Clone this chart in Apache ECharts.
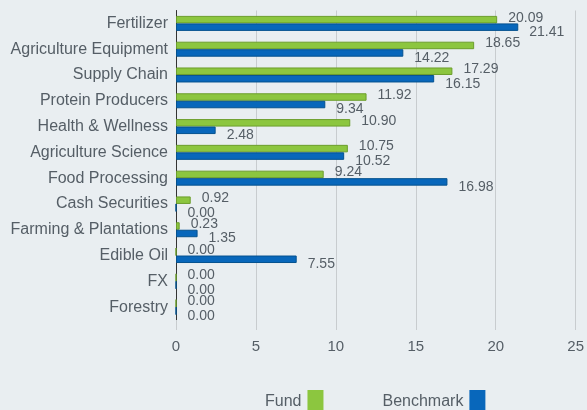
<!DOCTYPE html>
<html>
<head>
<meta charset="utf-8">
<script src="https://cdn.jsdelivr.net/npm/echarts@6/dist/echarts.min.js"></script>
<style>
  html, body { margin: 0; padding: 0; background: #e9eef1; }
  #main { width: 587px; height: 410px; }
</style>
</head>
<body>
<div id="main"></div>
<script>
const sectors = ['Fertilizer', 'Agriculture Equipment', 'Supply Chain', 'Protein Producers',
  'Health & Wellness', 'Agriculture Science', 'Food Processing', 'Cash Securities',
  'Farming & Plantations', 'Edible Oil', 'FX', 'Forestry'];
const fund = [20.09, 18.65, 17.29, 11.92, 10.90, 10.75, 9.24, 0.92, 0.23, 0.00, 0.00, 0.00];
const benchmark = [21.41, 14.22, 16.15, 9.34, 2.48, 10.52, 16.98, 0.00, 1.35, 7.55, 0.00, 0.00];
const xTicks = [0, 5, 10, 15, 20, 25];

const textColor = '#555e66';
const font = 'Liberation Sans, Arial, sans-serif';

const chart = echarts.init(document.getElementById('main'));

chart.setOption({
  backgroundColor: '#e9eef1',
  animation: false,
  textStyle: { fontFamily: font },
  grid: { left: 176, right: 8, top: 10.5, bottom: 90, containLabel: false },
  legend: {
    left: 265,
    top: 390,
    padding: 0,
    align: 'right',
    itemWidth: 16,
    itemHeight: 24,
    itemGap: 59,
    icon: 'rect',
    itemStyle: { borderWidth: 0 },
    textStyle: { color: textColor, fontSize: 16, fontFamily: font, padding: [4, 1, 0, 0] },
    data: ['Fund', 'Benchmark']
  },
  xAxis: {
    type: 'value',
    min: xTicks[0],
    max: xTicks[xTicks.length - 1],
    interval: 5,
    axisLine: { show: false },
    axisTick: { show: true, length: 10, lineStyle: { color: '#c8cccf' } },
    axisLabel: { color: textColor, fontSize: 15, margin: 19 },
    splitLine: { show: true, lineStyle: { color: '#c8cccf', width: 1 } }
  },
  yAxis: {
    type: 'category',
    inverse: true,
    data: sectors,
    axisLine: { show: true, lineStyle: { color: '#333', width: 1 } },
    axisTick: { show: false },
    axisLabel: { color: textColor, fontSize: 16, margin: 8, padding: [2, 0, 0, 0] }
  },
  series: [
    {
      name: 'Fund',
      type: 'bar',
      data: fund,
      barWidth: 7.5,
      barGap: '0%',
      itemStyle: { color: '#8cc63f', borderColor: '#6c9e2c', borderWidth: 1 },
      label: {
        show: true,
        position: 'right',
        distance: 11,
        offset: [0, -2],
        color: textColor,
        fontSize: 14,
        formatter: p => p.value.toFixed(2)
      }
    },
    {
      name: 'Benchmark',
      type: 'bar',
      data: benchmark,
      barWidth: 7.5,
      barGap: '0%',
      itemStyle: { color: '#0867bb', borderColor: '#05528f', borderWidth: 1 },
      label: {
        show: true,
        position: 'right',
        distance: 11,
        offset: [0, 5],
        color: textColor,
        fontSize: 14,
        formatter: p => p.value.toFixed(2)
      }
    }
  ]
});
</script>
</body>
</html>
